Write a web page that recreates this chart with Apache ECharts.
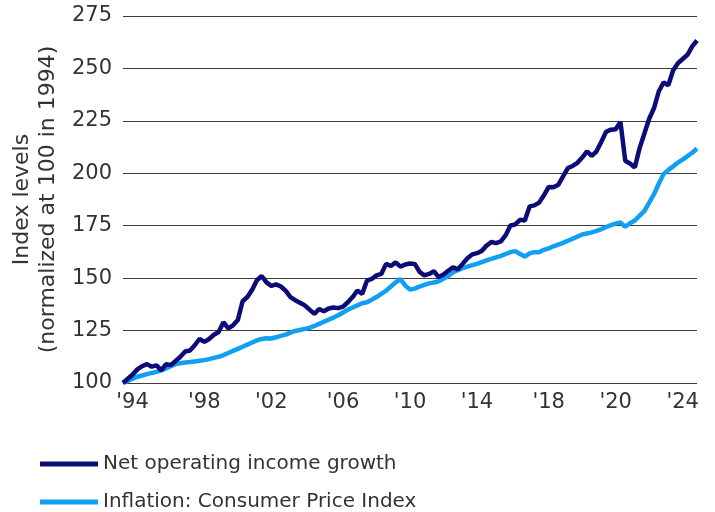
<!DOCTYPE html>
<html>
<head>
<meta charset="utf-8">
<script src="https://cdn.jsdelivr.net/npm/echarts@6/dist/echarts.min.js"></script>
<style>
	html, body { margin: 0; padding: 0; background: #fff; }
	#chart { width: 715px; height: 512px; }
</style>
</head>
<body>
<div id="chart"></div>
<script>
// quarterly index levels, 1994 = 100
let noiGrowth = [
	100, 102, 104, 106.5, 108, 109, 107.8, 108.4, 106, 109,
	108.5, 110.5, 112.5, 115, 115.5, 118, 121, 119.6, 121, 123,
	124.3, 129, 126, 127.5, 130, 139, 141, 144.5, 149, 151,
	148, 146.3, 147, 146, 144, 141, 139.5, 138.3, 137, 135,
	133, 135.3, 134.2, 135.5, 136, 135.7, 136.4, 138.5, 141, 144,
	142.5, 148.8, 149.6, 151.3, 152, 156.8, 155.8, 157.5, 155.5, 156.5,
	157, 156.8, 153, 151.3, 152, 153.3, 150.5, 151.7, 153.5, 155.2,
	154.2, 156.8, 159.5, 161.3, 161.9, 163, 165.5, 167.2, 166.7, 167.5,
	170.5, 175.1, 175.6, 177.8, 177.5, 184.2, 184.7, 186, 189.5, 193.5,
	193.3, 194.5, 198.5, 202.5, 203.5, 205, 207.5, 210.5, 208.3, 210.5,
	215, 219.8, 220.8, 221, 224.5, 206, 204.7, 202.8, 212, 219,
	226, 231, 239, 243.3, 242, 249, 252.5, 254.5, 256.5, 260.5,
	263.3
];
let cpi = [
	100, 101, 102, 103, 103.6, 104.2, 104.8, 105.3, 106, 107,
	108, 109, 109.4, 109.8, 110, 110.3, 110.6, 110.9, 111.4, 112,
	112.5, 113.3, 114.3, 115.3, 116.3, 117.3, 118.3, 119.3, 120.3, 121,
	121.3, 121.2, 121.8, 122.5, 123.1, 124, 124.8, 125.3, 125.8, 126.3,
	127.2, 128.2, 129.2, 130.2, 131.2, 132.3, 133.6, 135, 136, 137,
	138, 138.5, 139.7, 141, 142.5, 144, 146, 148, 149.5, 146.5,
	144.5, 145, 146, 146.8, 147.5, 147.9, 148.5, 149.7, 151, 152.8,
	153.8, 154.8, 155.5, 156.2, 156.8, 157.6, 158.5, 159.2, 159.9, 160.6,
	161.5, 162.4, 162.9, 161.5, 160.3, 161.8, 162.4, 162.4, 163.5, 164.2,
	165.2, 166, 166.8, 167.8, 168.8, 169.8, 170.8, 171.3, 171.8, 172.5,
	173.4, 174.4, 175.3, 176, 176.5, 174.5, 176.2, 177.5, 179.8, 182,
	186, 190, 195, 199.6, 201.5, 203.3, 205.1, 206.5, 208.2, 209.8,
	211.8
];
let tickLabels = ["'94", "'98", "'02", "'06", "'10", "'14", "'18", "'20", "'24"];
let tickIndex = [2, 17, 31, 46, 60, 74, 89, 103, 117];

let quarters = [];
for (let i = 0; i < noiGrowth.length; i++) {
	quarters.push((1994 + Math.floor(i / 4)) + 'Q' + (i % 4 + 1));
}

let textColor = '#333333';
let font = 'DejaVu Sans';

let myChart = echarts.init(document.getElementById('chart'));
let option = {
	animation: false,
	grid: {
		left: 123,
		right: 18,
		top: 16,
		bottom: 129
	},
	legend: {
		orient: 'vertical',
		left: 35,
		top: 449,
		height: 90,
		itemWidth: 58,
		itemHeight: 5,
		itemGap: 18,
		icon: 'rect',
		textStyle: {
			color: textColor,
			fontFamily: font,
			fontSize: 20
		},
		data: ['Net operating income growth', 'Inflation: Consumer Price Index']
	},
	xAxis: {
		type: 'category',
		data: quarters,
		boundaryGap: false,
		axisLine: { show: false },
		axisTick: { show: false },
		axisLabel: {
			color: textColor,
			fontFamily: font,
			fontSize: 21,
			margin: 9,
			interval: function (idx) {
				return tickIndex.indexOf(idx) >= 0;
			},
			formatter: function (val, idx) {
				return tickLabels[tickIndex.indexOf(idx)];
			}
		}
	},
	yAxis: {
		type: 'value',
		min: 100,
		max: 275,
		interval: 25,
		name: 'Index levels\n(normalized at 100 in 1994)',
		nameLocation: 'middle',
		nameGap: 62,
		nameTextStyle: {
			color: textColor,
			fontFamily: font,
			fontSize: 22,
			lineHeight: 26
		},
		axisLabel: {
			color: textColor,
			fontFamily: font,
			fontSize: 21,
			margin: 11
		},
		splitLine: {
			lineStyle: { color: '#3c3c3c', width: 1 }
		}
	},
	series: [{
		name: 'Net operating income growth',
		type: 'line',
		data: noiGrowth,
		showSymbol: false,
		z: 3,
		color: '#0b0c78',
		lineStyle: { width: 4.5, color: '#0b0c78' }
	}, {
		name: 'Inflation: Consumer Price Index',
		type: 'line',
		data: cpi,
		showSymbol: false,
		z: 2,
		color: '#109ff2',
		lineStyle: { width: 4.5, color: '#109ff2' }
	}]
};
myChart.setOption(option);
window.onresize = myChart.resize;
</script>
</body>
</html>
